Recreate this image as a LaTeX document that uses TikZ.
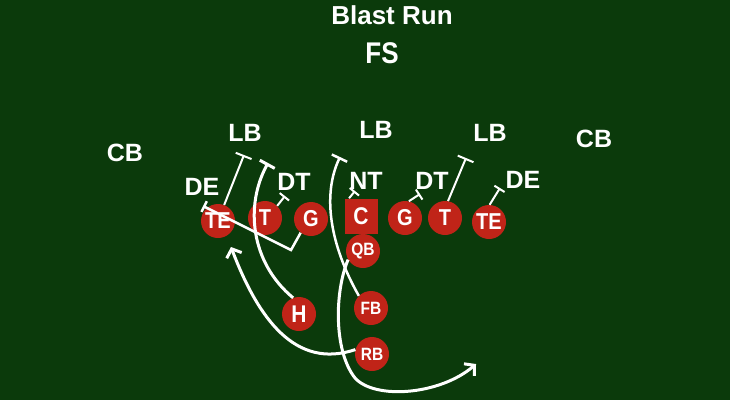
\documentclass[tikz,border=0pt]{standalone}
\usepackage{fontspec}
\usepackage{graphicx}
\setmainfont{Liberation Sans}
\usetikzlibrary{arrows.meta}
\definecolor{field}{RGB}{11,58,11}
\definecolor{player}{RGB}{192,36,24}
\newcommand{\vtall}[1]{\scalebox{1}[1.15]{#1}}
\begin{document}
\begin{tikzpicture}[x=1pt,y=-1pt,
  lbl/.style={text=white,font=\fontsize{25}{25}\selectfont\bfseries,inner sep=0pt},
  plr/.style={circle,fill=player,minimum size=34pt,inner sep=0pt,text=white,font=\fontsize{20}{20}\selectfont\bfseries},
  plrsmall/.style={plr,font=\fontsize{15.5}{15.5}\selectfont\bfseries},
  ctr/.style={rectangle,fill=player,minimum width=33pt,minimum height=35pt,inner sep=0pt,text=white,font=\fontsize{21}{21}\selectfont\bfseries},
  blk/.style={draw=white,line width=2pt,-{Bar[width=17pt]}},
  blksmall/.style={draw=white,line width=2pt,-{Bar[width=12pt]}},
  runpath/.style={draw=white,line width=3pt},
  runarrow/.style={draw=white,line width=3pt,-{Straight Barb[length=7pt,width=16pt]}}
]
\useasboundingbox (0,0) rectangle (730,400);
\fill[field] (0,0) rectangle (730,400);

% titles and defenders
\node[lbl,font=\fontsize{26}{26}\selectfont\bfseries] (title) at (392,15) {Blast Run};
\node[lbl,font=\fontsize{26}{26}\selectfont\bfseries] (fs) at (382,53) {\vtall{FS}};
\node[lbl] (cb1) at (125,153) {CB};
\node[lbl] (cb2) at (594,139) {CB};
\node[lbl] (lb1) at (245,133) {LB};
\node[lbl] (lb2) at (376,130) {LB};
\node[lbl] (lb3) at (490,133) {LB};
\node[lbl] (de1) at (202,187) {DE};
\node[lbl] (dt1) at (294,182) {DT};
\node[lbl] (nt) at (366,181) {NT};
\node[lbl] (dt2) at (432,181) {DT};
\node[lbl] (de2) at (523,180) {DE};

% offense
\node[plr] (te1) at (218,221) {\vtall{TE}};
\node[plr] (t1) at (265,218) {\vtall{T}};
\node[plr] (g1) at (311,219) {\vtall{G}};
\node[ctr] (c) at (361,216) {\vtall{C}};
\node[plr] (g2) at (405,218) {\vtall{G}};
\node[plr] (t2) at (445,218) {\vtall{T}};
\node[plr] (te2) at (489,222) {\vtall{TE}};
\node[plrsmall] (qb) at (363,251) {\vtall{QB}};
\node[plr,font=\fontsize{21}{21}\selectfont\bfseries] (h) at (299,314) {\vtall{H}};
\node[plrsmall] (fb) at (371,308) {\vtall{FB}};
\node[plrsmall] (rb) at (372,354) {\vtall{RB}};

% block end points
\coordinate (e1) at (244,155);
\coordinate (e2) at (285,196);
\coordinate (p1) at (291,250);
\coordinate (e3) at (203,206);
\coordinate (e4) at (355,191);
\coordinate (e5) at (420,194);
\coordinate (e6) at (466,158);
\coordinate (e7) at (500,188);
\coordinate (e8) at (268,163);
\coordinate (e9) at (340,157);
\coordinate (e10) at (476,364);
\coordinate (e11) at (231,247);
\coordinate (m1) at (355,378);

% blocks
\draw[blk] (te1.69) -- (e1);
\draw[blksmall] (t1.45) -- (e2);
\draw[blksmall,line width=2.5pt] (g1.233) -- (p1) -- (e3);
\draw[blksmall] (c.124) -- (e4);
\draw[blksmall] (g2.77) -- (e5);
\draw[blk] (t2.80) -- (e6);
\draw[blksmall] (te2.88) -- (e7);

% backs
\draw[runpath,-{Bar[width=17pt]}] (h.110) .. controls (250,262) and (245,205) .. (e8);
\draw[runpath,line width=2.5pt,-{Bar[width=17pt]}] (fb.135) .. controls (330,245) and (322,195) .. (e9);
\draw[runarrow] (qb.210) .. controls (335,290) and (333,350) .. (m1)
   .. controls (375,400) and (440,395) .. (e10);
\draw[runarrow] (rb.165) .. controls (295,370) and (258,318) .. (e11);
\end{tikzpicture}
\end{document}
